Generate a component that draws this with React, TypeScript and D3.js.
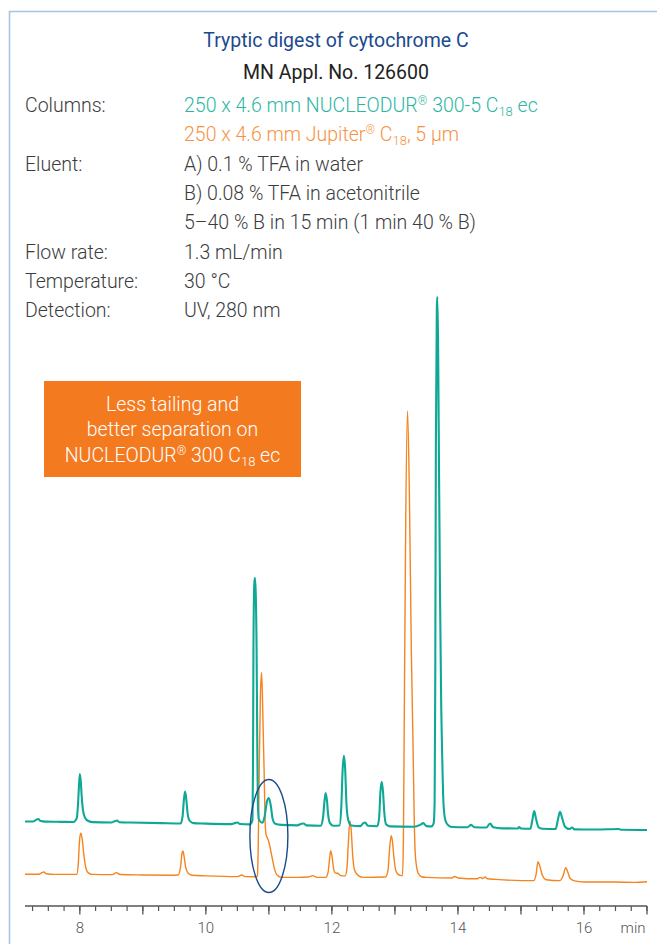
import React from "react";
import * as d3 from "d3";

// ---------- data ----------
const tealTrace: [number, number][] = [
  [7.13, 10.78], [7.26, 10.78], [7.31, 11.1], [7.34, 11.2], [7.38, 10.85], [7.45, 10.76],
  [7.7, 10.72], [7.9, 10.7], [7.95, 11.3], [7.97, 13.5], [7.985, 16.5], [8.0, 18.85],
  [8.015, 17.6], [8.03, 15.0], [8.05, 12.7], [8.08, 11.5], [8.12, 10.95], [8.2, 10.68],
  [8.5, 10.62], [8.56, 10.85], [8.59, 10.95], [8.63, 10.65], [8.8, 10.6], [9.3, 10.5],
  [9.6, 10.45], [9.63, 11.6], [9.65, 14.3], [9.67, 15.85], [9.69, 14.5], [9.71, 12.2],
  [9.74, 10.95], [9.8, 10.5], [10.0, 10.42], [10.4, 10.34], [10.47, 10.55], [10.5, 10.6],
  [10.54, 10.35], [10.7, 10.3], [10.74, 11], [10.748, 20], [10.755, 40], [10.768, 51],
  [10.778, 52.17], [10.79, 50], [10.805, 40], [10.815, 25], [10.825, 14], [10.84, 11.2],
  [10.87, 10.7], [10.9, 10.58], [10.93, 11.5], [10.97, 14.2], [11.0, 14.77], [11.03, 13.5],
  [11.06, 11.2], [11.1, 10.4], [11.2, 10.2], [11.45, 10.12], [11.52, 10.4], [11.55, 10.45],
  [11.6, 10.12], [11.82, 10.05], [11.86, 11.5], [11.88, 14.0], [11.9, 15.62], [11.92, 14.5],
  [11.94, 12.0], [11.97, 10.5], [12.02, 10.05], [12.12, 10.1], [12.15, 13.5], [12.17, 19.5],
  [12.19, 21.95], [12.21, 19.8], [12.23, 14.0], [12.26, 11.0], [12.31, 10.1], [12.45, 10.0],
  [12.5, 10.5], [12.53, 10.6], [12.57, 10.05], [12.72, 9.97], [12.75, 11.5], [12.77, 15.8],
  [12.79, 17.54], [12.81, 16.0], [12.83, 12.5], [12.86, 10.3], [12.92, 9.95], [13.3, 9.9],
  [13.4, 10.2], [13.45, 10.5], [13.5, 10.0], [13.58, 9.95], [13.615, 10.5], [13.63, 14],
  [13.64, 35], [13.65, 75], [13.665, 98], [13.673, 99.88], [13.685, 92], [13.7, 70],
  [13.715, 50], [13.735, 30], [13.75, 22], [13.77, 14], [13.8, 11], [13.85, 10.1],
  [13.9, 9.85], [14.15, 9.8], [14.21, 10.2], [14.26, 9.8], [14.45, 9.75], [14.51, 10.45],
  [14.56, 9.8], [14.7, 9.62], [14.95, 9.6], [14.97, 9.85], [15.0, 9.6], [15.15, 9.56],
  [15.18, 11.0], [15.21, 12.56], [15.24, 11.2], [15.28, 9.8], [15.35, 9.55], [15.55, 9.52],
  [15.59, 11.3], [15.62, 12.44], [15.65, 11.5], [15.7, 9.9], [15.77, 9.5], [15.81, 9.75],
  [15.85, 9.45], [16.2, 9.42], [16.55, 9.5], [16.6, 9.38], [17.0, 9.34],
];

const orangeTrace: [number, number][] = [
  [7.13, 1.82], [7.35, 1.82], [7.4, 2.1], [7.43, 2.2], [7.47, 1.9], [7.6, 1.8],
  [7.95, 1.8], [7.975, 3.5], [7.995, 7.5], [8.015, 8.78], [8.035, 8.0], [8.06, 5.5],
  [8.09, 3.2], [8.13, 2.1], [8.2, 1.8], [8.52, 1.76], [8.58, 2.1], [8.64, 1.78],
  [9.0, 1.7], [9.45, 1.66], [9.56, 1.7], [9.6, 3.2], [9.62, 5.3], [9.635, 5.77],
  [9.655, 4.8], [9.68, 3.0], [9.72, 2.0], [9.78, 1.65], [10.0, 1.55], [10.5, 1.42],
  [10.57, 1.7], [10.62, 1.42], [10.8, 1.4], [10.818, 1.6], [10.83, 6], [10.845, 18],
  [10.865, 32], [10.884, 36.1], [10.9, 31], [10.91, 26], [10.925, 19], [10.94, 11],
  [10.955, 8.6], [10.98, 7.9], [11.0, 7.3], [11.03, 5.8], [11.06, 4.2], [11.09, 2.7],
  [11.13, 1.7], [11.2, 1.3], [11.45, 1.3], [11.62, 1.35], [11.7, 1.6], [11.76, 1.3],
  [11.9, 1.3], [11.94, 2.2], [11.96, 4.2], [11.98, 5.82], [12.0, 5.0], [12.03, 2.6],
  [12.06, 2.0], [12.09, 2.0], [12.14, 1.6], [12.21, 1.55], [12.24, 3], [12.26, 7],
  [12.285, 10.87], [12.305, 9.5], [12.33, 5], [12.36, 2.5], [12.42, 1.6], [12.5, 1.3],
  [12.85, 1.36], [12.89, 2.5], [12.915, 6], [12.94, 8.37], [12.96, 7.5], [12.985, 4.6],
  [13.01, 2.6], [13.05, 1.8], [13.1, 1.6], [13.12, 1.6], [13.135, 8], [13.146, 24.6],
  [13.17, 60], [13.2, 80.5], [13.23, 66], [13.26, 40], [13.286, 24.6], [13.305, 12],
  [13.32, 5.9], [13.345, 3], [13.37, 2.0], [13.42, 1.4], [13.5, 1.3], [13.9, 1.2],
  [13.95, 1.45], [14.0, 1.2], [14.3, 1.05], [14.35, 1.3], [14.39, 1.1], [14.43, 1.35],
  [14.47, 1.05], [14.6, 0.95], [15.0, 0.75], [15.2, 0.74], [15.24, 1.8], [15.27, 3.96],
  [15.3, 3.2], [15.34, 1.6], [15.4, 0.9], [15.62, 0.75], [15.67, 1.6], [15.71, 2.94],
  [15.74, 2.3], [15.78, 1.1], [15.85, 0.7], [16.0, 0.52], [16.5, 0.5], [16.8, 0.45],
  [17.0, 0.56],
];

const tickLabels = [8, 10, 12, 14, 16];
const majorTicks = [8, 9, 10, 11, 12, 13, 14, 15, 16, 17];
const minorTicks = d3.range(7.25, 17.001, 0.25);
const xUnit = "min";

const title = "Tryptic digest of cytochrome C";
const subtitle = "MN Appl. No. 126600";
const conditionLabels = ["Columns:", "", "Eluent:", "", "", "Flow rate:", "Temperature:", "Detection:"];
const boxLines = ["Less tailing and", "better separation on"];

// ---------- styles ----------
const TEAL = "#0fa896";
const TEAL_TEXT = "#2db6a3";
const ORANGE = "#f5841f";
const ORANGE_TEXT = "#f7933f";
const FONT = "Roboto, 'Liberation Sans', Arial, sans-serif";

export default function App() {
  const W = 657;
  const H = 944;
  const x = d3.scaleLinear().domain([7.13, 17]).range([25, 647]);
  const y = d3.scaleLinear().domain([0, 100]).range([885, 296]);
  const line = d3
    .line<[number, number]>()
    .x((d) => x(d[0]))
    .y((d) => y(d[1]))
    .curve(d3.curveMonotoneX);

  const axisY = 906;
  const labelX = 25;
  const valueX = 184;
  const rowY = [112, 141.3, 170.6, 199.9, 229.2, 258.5, 287.8, 317.1];
  const txt = { fontFamily: FONT, fontWeight: 300, fontSize: 19.5 } as const;

  return (
    <div style={{ position: "absolute", left: 0, top: 0, width: W, height: H, background: "#fff" }}>
      <svg width={W} height={H} viewBox={`0 0 ${W} ${H}`} style={{ display: "block" }}>
        {/* frame */}
        <path d={`M9.5,${H} V11.5 H${W}`} fill="none" stroke="#a8c3e3" strokeWidth={1.6} />

        {/* header */}
        <text x={336} y={46.5} textAnchor="middle" fill="#1b4a8f" {...txt} fontWeight={400}>
          {title}
        </text>
        <text x={336} y={79} textAnchor="middle" fill="#222" {...txt} fontWeight={400}>
          {subtitle}
        </text>
        {conditionLabels.map((l, i) =>
          l ? (
            <text key={i} x={labelX} y={rowY[i]} fill="#3c3c3c" {...txt}>
              {l}
            </text>
          ) : null
        )}
        <text x={valueX} y={rowY[0]} fill={TEAL_TEXT} {...txt}>
          250 x 4.6 mm NUCLEODUR
          <tspan fontSize={12} dy={-7}>®</tspan>
          <tspan dy={7}> 300-5 C</tspan>
          <tspan fontSize={13} dy={4}>18</tspan>
          <tspan dy={-4}> ec</tspan>
        </text>
        <text x={valueX} y={rowY[1]} fill={ORANGE_TEXT} {...txt}>
          250 x 4.6 mm Jupiter
          <tspan fontSize={12} dy={-7}>®</tspan>
          <tspan dy={7}> C</tspan>
          <tspan fontSize={13} dy={4}>18</tspan>
          <tspan dy={-4}>, 5 µm</tspan>
        </text>
        <text x={valueX} y={rowY[2]} fill="#3c3c3c" {...txt}>A) 0.1 % TFA in water</text>
        <text x={valueX} y={rowY[3]} fill="#3c3c3c" {...txt}>B) 0.08 % TFA in acetonitrile</text>
        <text x={valueX} y={rowY[4]} fill="#3c3c3c" {...txt}>5–40 % B in 15 min (1 min 40 % B)</text>
        <text x={valueX} y={rowY[5]} fill="#3c3c3c" {...txt}>1.3 mL/min</text>
        <text x={valueX} y={rowY[6]} fill="#3c3c3c" {...txt}>30 °C</text>
        <text x={valueX} y={rowY[7]} fill="#3c3c3c" {...txt}>UV, 280 nm</text>

        {/* annotation box */}
        <rect x={44} y={381} width={257} height={96} fill="#f47a20" />
        <text x={172.5} y={411} textAnchor="middle" fill="#fff" {...txt}>{boxLines[0]}</text>
        <text x={172.5} y={436} textAnchor="middle" fill="#fff" {...txt}>{boxLines[1]}</text>
        <text x={172.5} y={461.5} textAnchor="middle" fill="#fff" {...txt}>
          NUCLEODUR
          <tspan fontSize={12} dy={-7}>®</tspan>
          <tspan dy={7}> 300 C</tspan>
          <tspan fontSize={13} dy={4}>18</tspan>
          <tspan dy={-4}> ec</tspan>
        </text>

        {/* traces */}
        <path d={line(orangeTrace) ?? ""} fill="none" stroke={ORANGE} strokeWidth={1.4} strokeLinejoin="round" />
        <path d={line(tealTrace) ?? ""} fill="none" stroke={TEAL} strokeWidth={2.1} strokeLinejoin="round" />

        {/* highlight ellipse */}
        <ellipse cx={x(11.0)} cy={y(8.32)} rx={19} ry={56.5} fill="none" stroke="#1a4a8c" strokeWidth={1.4} />

        {/* axis */}
        <line x1={x(7.13)} x2={x(17)} y1={axisY} y2={axisY} stroke="#555" strokeWidth={1.5} />
        {minorTicks.map((t) => (
          <line key={"m" + t} x1={x(t)} x2={x(t)} y1={axisY} y2={axisY + 5} stroke="#555" strokeWidth={1.2} />
        ))}
        {majorTicks.map((t) => (
          <line key={"M" + t} x1={x(t)} x2={x(t)} y1={axisY} y2={axisY + 8.5} stroke="#555" strokeWidth={1.3} />
        ))}
        {tickLabels.map((t) => (
          <text key={"l" + t} x={x(t)} y={933} textAnchor="middle" fill="#555" fontFamily={FONT} fontWeight={300} fontSize={15}>
            {t}
          </text>
        ))}
        <text x={645.5} y={933} textAnchor="end" fill="#555" fontFamily={FONT} fontWeight={300} fontSize={15}>
          {xUnit}
        </text>
      </svg>
    </div>
  );
}
